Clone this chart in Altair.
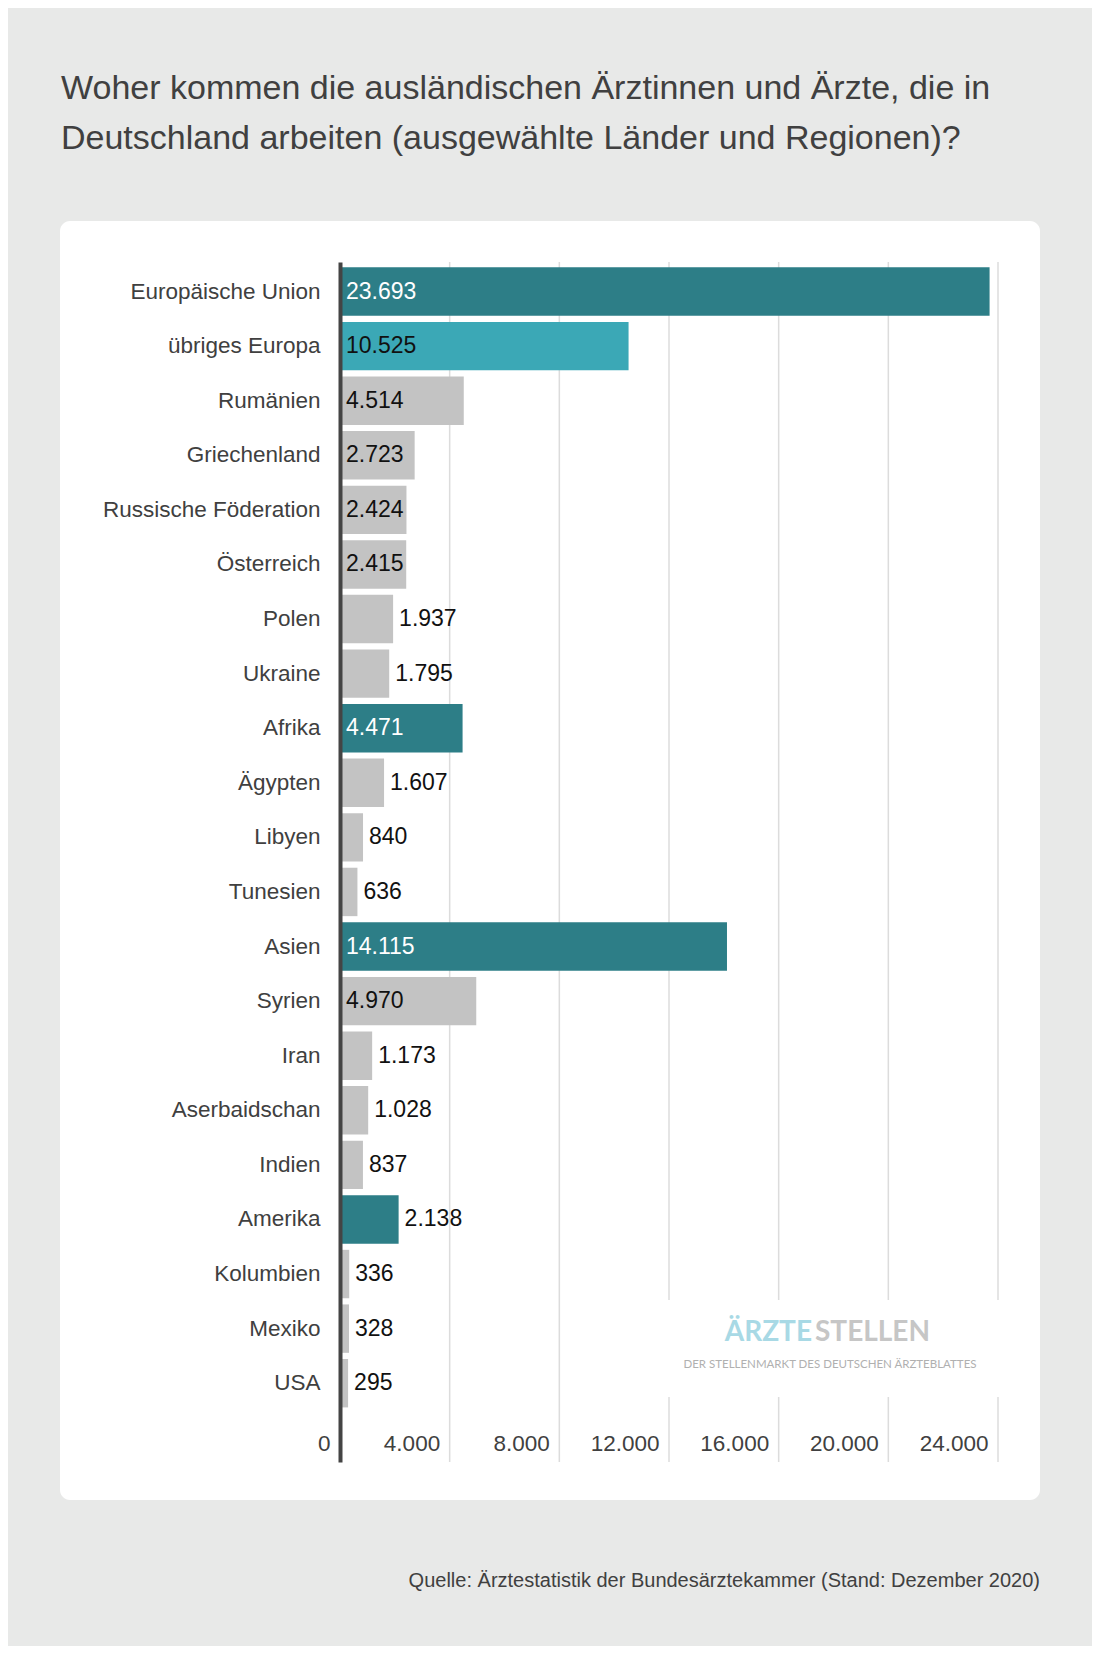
import altair as alt
import pandas as pd

# ---------------- data ----------------
categories = [
    "Europäische Union", "übriges Europa", "Rumänien", "Griechenland",
    "Russische Föderation", "Österreich", "Polen", "Ukraine", "Afrika",
    "Ägypten", "Libyen", "Tunesien", "Asien", "Syrien", "Iran",
    "Aserbaidschan", "Indien", "Amerika", "Kolumbien", "Mexiko", "USA",
]
values = [
    23693, 10525, 4514, 2723, 2424, 2415, 1937, 1795, 4471,
    1607, 840, 636, 14115, 4970, 1173, 1028, 837, 2138, 336, 328, 295,
]
groups = [
    "Region", "Europa", "Land", "Land", "Land", "Land", "Land", "Land", "Region",
    "Land", "Land", "Land", "Region", "Land", "Land", "Land", "Land", "Region",
    "Land", "Land", "Land",
]
x_ticks = [0, 4000, 8000, 12000, 16000, 20000, 24000]
title_lines = [
    "Woher kommen die ausländischen Ärztinnen und Ärzte, die in",
    "Deutschland arbeiten (ausgewählte Länder und Regionen)?",
]
source_text = "Quelle: Ärztestatistik der Bundesärztekammer (Stand: Dezember 2020)"
logo_a = "ÄRZTE"
logo_b = "STELLEN"
logo_sub = "DER STELLENMARKT DES DEUTSCHEN ÄRZTEBLATTES"

df = pd.DataFrame({"land": categories, "value": values, "group": groups})
ticks_df = pd.DataFrame({"tick": x_ticks[1:]})
one = pd.DataFrame({"k": [0]})

# ---------------- styling ----------------
FONT = "Liberation Sans, Arial, sans-serif"
W, H = 658, 1200
FMT = "replace(format(datum.value, ','), ',', '.')"
TXT = "#404040"
FS = 22.5

x_scale = alt.Scale(domain=[0, 24000], nice=False, zero=True)
x_axis = alt.Axis(
    values=x_ticks, title=None, grid=False, domain=False, ticks=False,
    labelExpr=FMT, labelAlign="right", labelBaseline="middle",
    labelOffset=-10, labelPadding=-19, labelFlush=False, labelOverlap=False,
    labelFont=FONT, labelFontSize=FS, labelColor=TXT, zindex=1,
)
y_axis = alt.Axis(
    title=None, ticks=False, tickSize=0, grid=False, domain=True,
    domainColor="#444444", domainWidth=4, labelPadding=20, labelLimit=400,
    labelFont=FONT, labelFontSize=FS, labelColor=TXT, zindex=1,
)
y_scale = alt.Scale(domain=categories + [" "], paddingInner=0.113,
                    paddingOuter=0.0485, align=1)

panel = alt.Chart(one).mark_rect(color="white", cornerRadius=10).encode(
    x=alt.value(-280), x2=alt.value(700), y=alt.value(-41), y2=alt.value(1238)
)

grid = alt.Chart(ticks_df).mark_rule(color="#dcdcdc", strokeWidth=1.5).encode(
    x=alt.X("tick:Q", scale=x_scale, axis=x_axis)
)

logo_box = alt.Chart(one).mark_rect(color="white").encode(
    x=alt.value(315), x2=alt.value(680), y=alt.value(1038), y2=alt.value(1135)
)

bars = alt.Chart(df).mark_bar().encode(
    y=alt.Y("land:N", scale=y_scale, axis=y_axis),
    x=alt.X("value:Q", scale=x_scale, axis=x_axis),
    color=alt.Color(
        "group:N",
        scale=alt.Scale(domain=["Region", "Europa", "Land"],
                        range=["#2d7e87", "#3ba8b6", "#c3c3c3"]),
        legend=None,
    ),
)

labels = alt.Chart(df).transform_calculate(
    pos="datum.value >= 2300 ? 0 : datum.value",
    label=FMT,
).mark_text(align="left", baseline="middle", dx=6, font=FONT, fontSize=23).encode(
    y=alt.Y("land:N", scale=y_scale, axis=y_axis),
    x=alt.X("pos:Q", scale=x_scale, axis=x_axis),
    text="label:N",
    color=alt.condition("datum.group == 'Region' && datum.value >= 2300",
                        alt.value("white"), alt.value("#111111")),
)

title = alt.Chart(one).mark_text(
    text=title_lines, align="left", baseline="alphabetic", font=FONT,
    fontSize=34, lineHeight=50, color=TXT,
).encode(x=alt.value(-279), y=alt.value(-163))

source = alt.Chart(one).mark_text(
    text=source_text, align="right", baseline="alphabetic", font=FONT,
    fontSize=20, color=TXT,
).encode(x=alt.value(700), y=alt.value(1325))

logo1 = alt.Chart(one).mark_text(
    text=logo_a, align="right", baseline="alphabetic", font="Lato",
    fontWeight="bold", fontSize=28, color="#a8d9e5",
).encode(x=alt.value(472), y=alt.value(1079))

logo2 = alt.Chart(one).mark_text(
    text=logo_b, align="left", baseline="alphabetic", font="Lato",
    fontWeight="bold", fontSize=28, color="#c6c6c6",
).encode(x=alt.value(475), y=alt.value(1079))

logo3 = alt.Chart(one).mark_text(
    text=logo_sub, align="center", baseline="alphabetic", font="Lato",
    fontSize=11.5, color="#b0b0b0",
).encode(x=alt.value(490), y=alt.value(1106))

chart = alt.layer(
    panel, grid, logo_box, bars, labels, title, source, logo1, logo2, logo3
).properties(
    width=W, height=H,
    autosize=alt.AutoSizeParams(type="none"),
    padding={"left": 332, "top": 254, "right": 94, "bottom": 184},
).configure(
    background="#e8e9e8",
).configure_view(strokeWidth=0)

chart.save("out.html", embed_options={"renderer": "svg", "actions": False})
